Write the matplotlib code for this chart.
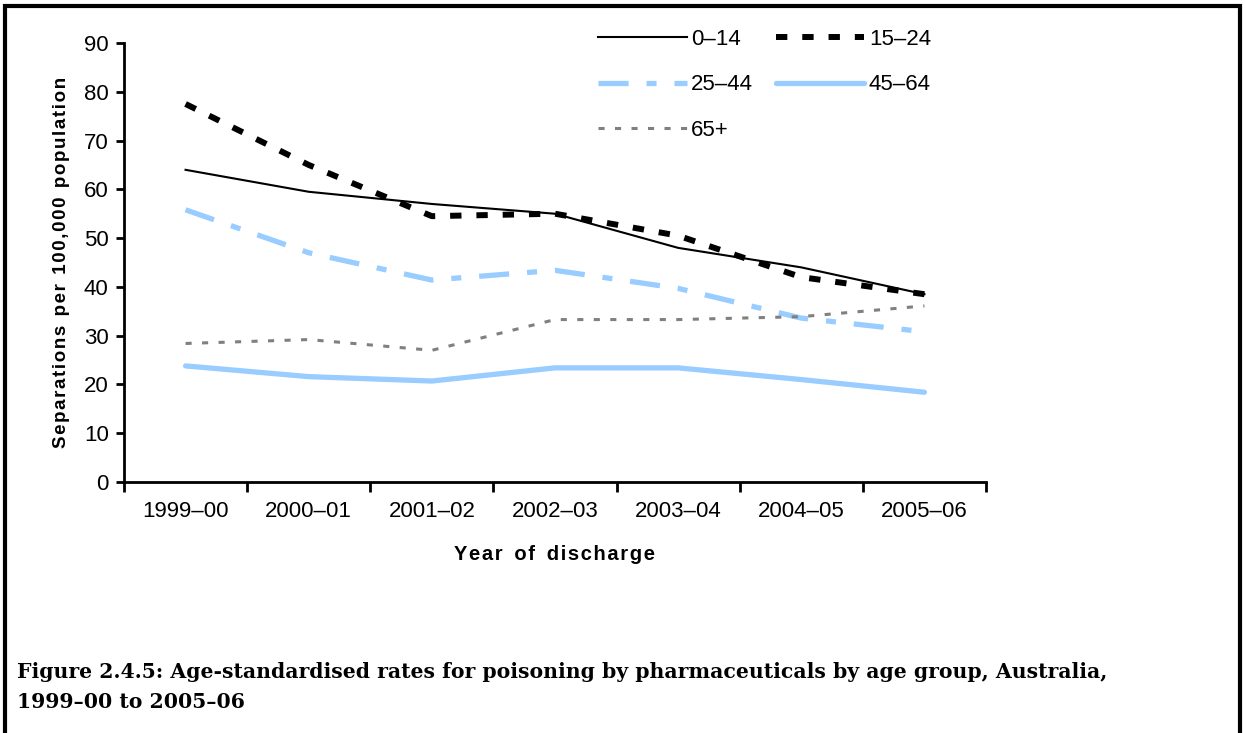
import matplotlib
matplotlib.use("Agg")
import matplotlib.pyplot as plt
from matplotlib.patches import Rectangle

years = ["1999\u201300", "2000\u201301", "2001\u201302", "2002\u201303", "2003\u201304", "2004\u201305", "2005\u201306"]
age_0_14 = [64.0, 59.5, 57.0, 55.0, 48.0, 44.0, 38.5]
age_15_24 = [77.5, 65.0, 54.5, 55.0, 50.5, 42.0, 38.5]
age_25_44 = [55.8, 47.0, 41.4, 43.4, 39.7, 33.6, 30.8]
age_45_64 = [23.8, 21.6, 20.7, 23.4, 23.4, 21.0, 18.4]
age_65p = [28.4, 29.2, 27.0, 33.3, 33.3, 33.9, 36.1]
labels = ["0\u201314", "15\u201324", "25\u201344", "45\u201364", "65+"]
yticks = [0, 10, 20, 30, 40, 50, 60, 70, 80, 90]

plt.rcParams['font.family'] = ['Liberation Sans', 'DejaVu Sans']

fig = plt.figure(figsize=(12.46, 7.33), dpi=100)
ax = fig.add_axes([124/1246, 1 - 482/733, (986-124)/1246, (482-43)/733])

x = list(range(len(years)))
blue = "#99CCFF"
h0, = ax.plot(x, age_0_14, color="black", lw=1.5, label=labels[0])
h1, = ax.plot(x, age_15_24, color="black", lw=4.3, ls=(0, (1.9, 2.5)), label=labels[1])
h2, = ax.plot(x, age_25_44, color=blue, lw=3.8, ls=(0, (5.7, 3.4, 1.9, 3.4)), label=labels[2])
h3, = ax.plot(x, age_45_64, color=blue, lw=3.8, solid_capstyle='round', label=labels[3])
h4, = ax.plot(x, age_65p, color="#808080", lw=2.2, ls=(0, (2.0, 3.4)), label=labels[4])

ax.set_xlim(-0.5, len(years) - 0.5)
ax.set_ylim(0, 90)
ax.set_yticks(yticks)
ax.set_xticks([i - 0.5 for i in range(len(years) + 1)], minor=False)
ax.set_xticklabels([])
ax.set_xticks(x, minor=True)
ax.set_xticklabels(years, minor=True)
ax.tick_params(axis='x', which='minor', length=0, pad=14, labelsize=16)
ax.tick_params(axis='x', which='major', length=7, width=2, direction='out')
ax.tick_params(axis='y', length=6, width=2, direction='out', labelsize=16, pad=5)
for s in ['top', 'right']:
    ax.spines[s].set_visible(False)
for s in ['left', 'bottom']:
    ax.spines[s].set_linewidth(2)

def spaced(s):
    return "\u200a".join(s).replace("\u200a \u200a", "\u2002")

ax.set_ylabel(spaced("Separations per 100,000 population"),
              fontsize=13.5, fontweight='bold', labelpad=10)
ax.set_xlabel(spaced("Year of discharge").replace("\u2002", "\u2002\u200a"),
              fontsize=14.5, fontweight='bold', labelpad=16)

handles = [h0, h2, h4, h1, h3]
leg = fig.legend(handles, [h.get_label() for h in handles], ncol=2, loc='upper left',
                 bbox_to_anchor=(598/1246, 1 - 29/733), bbox_transform=fig.transFigure,
                 frameon=False, fontsize=16, handlelength=4.0, handletextpad=0.2,
                 columnspacing=1.0, labelspacing=1.1, borderpad=0, borderaxespad=0)

fig.patches.append(Rectangle((5/1246, -0.05), (1240-5)/1246, 1.05 - 6/733,
                             transform=fig.transFigure, fill=False, lw=3, ec='black'))

fig.text(17/1246, 1 - 672/733, "Figure 2.4.5: Age-standardised rates for poisoning by pharmaceuticals by age group, Australia,",
         fontsize=14.65, fontweight='bold', family=['DejaVu Serif'], va='center')
fig.text(17/1246, 1 - 702/733, "1999\u201300 to 2005\u201306",
         fontsize=14.65, fontweight='bold', family=['DejaVu Serif'], va='center')

fig.savefig("out.png", dpi=100)
